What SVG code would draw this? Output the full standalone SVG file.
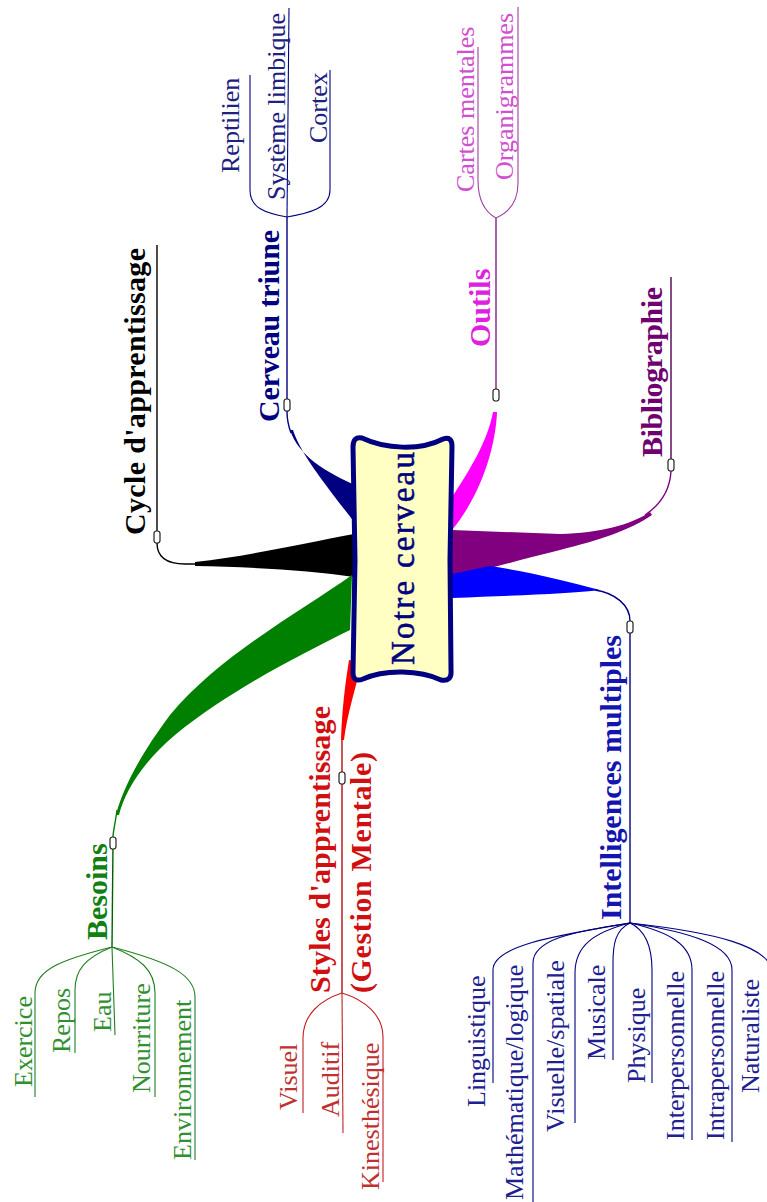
<svg xmlns="http://www.w3.org/2000/svg" xmlns:xlink="http://www.w3.org/1999/xlink" width="767" height="1202" viewBox="0 0 767 1202">
<style>
text{font-family:"Liberation Serif","Times New Roman",serif}
.main{font-size:30px;font-weight:bold}
.sub{font-size:26px}
.ln{fill:none;stroke-width:1.4}
.sl{fill:none;stroke-width:1.1}
.mk{fill:#fff;stroke:#222;stroke-width:1.2}
</style>
<defs>
<rect id="mk" class="mk" x="-3" y="-6" width="6" height="12" rx="2.5"/>
</defs>
<rect width="767" height="1202" fill="#fff"/>
<g id="connectors">
<path d="M354,534 C310,542 250,556 195,562 L195,566 C250,567 310,570 354,577 Z" fill="#000"/>
<path d="M205,564 L185,564 C165,564 157,556 157,543" class="ln" stroke="#000" stroke-width="2.2"/>
<path d="M357,486 C325,472 298,455 290,430 L293,430 C300,452 320,478 355,523 Z" fill="#000080"/>
<path d="M291,433 C288,425 287,418 287,411" class="ln" stroke="#000080" stroke-width="2"/>
<path d="M452,497 C470,470 488,440 493,412 L497,412 C496,440 485,490 452,530 Z" fill="#FF00FF"/>
<path d="M452,530 L560,534 C600,533 630,525 650,512 L652,515 C630,530 600,540 560,550 C520,560 490,568 452,579 Z" fill="#800080"/>
<path d="M645,515 C660,505 670,490 671,471" class="ln" stroke="#800080" stroke-width="2"/>
<path d="M452,574 L490,566 C530,572 570,582 600,590 C570,594 520,595 452,598 Z" fill="#0000FF"/>
<path d="M595,590 C615,593 630,605 630,621" class="ln" stroke="#000080" stroke-width="2"/>
<path d="M349,660 L362,662 C355,690 347,715 344,740 L341,740 C342,710 345,685 349,660 Z" fill="#FF0000"/>
<path d="M352,575 C300,612 220,655 170,715 C140,755 122,790 116,815 L119,815 C125,790 145,760 175,735 C230,690 300,655 350,630 Z" fill="#008000"/>
<path d="M117,810 C115,825 113,832 113,837" class="ln" stroke="#008000" stroke-width="2"/>
<path d="M157,537 L157,245" class="ln" stroke="#000"/>
<path d="M287,405 L287,217" class="ln" stroke="#000080"/>
<path d="M287,217 C265,213 250,208 250,190 L250,75" class="sl" stroke="#000080"/>
<path d="M287,217 L289,8" class="sl" stroke="#000080"/>
<path d="M287,217 C310,213 330,208 330,190 L330,70" class="sl" stroke="#000080"/>
<path d="M496,395 L496,218" class="ln" stroke="#802080"/>
<path d="M496,218 C485,212 478,200 478,180 L478,47" class="sl" stroke="#A040A0"/>
<path d="M496,218 C510,212 518,200 518,183 L518,7" class="sl" stroke="#A040A0"/>
<path d="M671,465 L671,277" class="ln" stroke="#500050"/>
<path d="M630,627 L630,923" class="ln" stroke="#000080"/>
<path d="M630,923 C560,935 493,945 493,970 L493,1083" class="sl" stroke="#000080"/>
<path d="M630,923 C570,932 533,940 533,963 L533,1202" class="sl" stroke="#000080"/>
<path d="M630,923 C595,932 575,945 575,973 L575,1123" class="sl" stroke="#000080"/>
<path d="M630,923 C615,930 613,945 613,963 L613,1060" class="sl" stroke="#000080"/>
<path d="M630,923 C645,930 652,945 652,970 L652,1083" class="sl" stroke="#000080"/>
<path d="M630,923 C670,932 692,945 692,970 L692,1140" class="sl" stroke="#000080"/>
<path d="M630,923 C690,932 732,945 732,970 L732,1142" class="sl" stroke="#000080"/>
<path d="M630,923 C710,932 773,945 773,975 L773,1100" class="sl" stroke="#000080"/>
<path d="M342,740 L342,993" class="ln" stroke="#B01010"/>
<path d="M342,993 C320,1000 303,1015 303,1038 L303,1113" class="sl" stroke="#C02020"/>
<path d="M342,993 L343,1133" class="sl" stroke="#C02020"/>
<path d="M342,993 C365,1000 383,1015 383,1037 L383,1182" class="sl" stroke="#C02020"/>
<path d="M113,843 L112,947" class="ln" stroke="#006000"/>
<path d="M112,947 C60,960 35,970 35,993 L35,1097" class="sl" stroke="#208020"/>
<path d="M112,947 C85,958 75,970 75,990 L75,1053" class="sl" stroke="#208020"/>
<path d="M112,947 L115,1035" class="sl" stroke="#208020"/>
<path d="M112,947 C140,958 155,970 155,993 L155,1097" class="sl" stroke="#208020"/>
<path d="M112,947 C170,962 195,975 195,997 L195,1160" class="sl" stroke="#208020"/>
<use xlink:href="#mk" x="157" y="537"/>
<use xlink:href="#mk" x="287" y="405"/>
<use xlink:href="#mk" x="496" y="395"/>
<use xlink:href="#mk" x="671" y="465"/>
<use xlink:href="#mk" x="630" y="627"/>
<use xlink:href="#mk" x="342" y="778"/>
<use xlink:href="#mk" x="113" y="843"/>
</g>
<g id="center">
<path d="M362,438 C385,449 420,451 443,439 Q452,436 452,446 L450,560 L451,670 Q452,682 441,680 C420,670 385,669 363,679 Q353,683 353,672 L355,560 L353,447 Q353,436 362,438 Z" fill="#FFFFC4" stroke="#000080" stroke-width="5" stroke-linejoin="round"/>
<text transform="translate(414,665) rotate(-90)" font-size="33" fill="#000080" stroke="#000080" stroke-width="0.5" textLength="213" lengthAdjust="spacing">Notre cerveau</text>
</g>
<g id="cycle"><text class="main" fill="#000" transform="translate(145,535) rotate(-90)" textLength="287" lengthAdjust="spacing">Cycle d'apprentissage</text></g>
<g id="cerveau-triune"><text class="main" fill="#000080" transform="translate(279,422) rotate(-90)" textLength="192" lengthAdjust="spacing">Cerveau triune</text></g>
<g id="reptilien"><text class="sub" fill="#202080" transform="translate(239,173) rotate(-90)">Reptilien</text></g>
<g id="systeme-limbique"><text class="sub" fill="#202080" transform="translate(285,200) rotate(-90)">Système limbique</text></g>
<g id="cortex"><text class="sub" fill="#202080" transform="translate(327,143) rotate(-90)">Cortex</text></g>
<g id="outils"><text class="main" fill="#E020E0" transform="translate(490,347) rotate(-90)">Outils</text></g>
<g id="cartes-mentales"><text class="sub" fill="#D050D0" transform="translate(474,192) rotate(-90)">Cartes mentales</text></g>
<g id="organigrammes"><text class="sub" fill="#D050D0" transform="translate(513,180) rotate(-90)">Organigrammes</text></g>
<g id="bibliographie"><text class="main" fill="#700070" transform="translate(662,457) rotate(-90)" textLength="170" lengthAdjust="spacing">Bibliographie</text></g>
<g id="intelligences"><text class="main" fill="#1414B0" transform="translate(621,920) rotate(-90)" textLength="285" lengthAdjust="spacing">Intelligences multiples</text></g>
<g id="linguistique"><text class="sub" fill="#202090" transform="translate(485,1107) rotate(-90)">Linguistique</text></g>
<g id="mathematique"><text class="sub" fill="#202090" transform="translate(523,1200) rotate(-90)">Mathématique/logique</text></g>
<g id="visuelle"><text class="sub" fill="#202090" transform="translate(564,1132) rotate(-90)">Visuelle/spatiale</text></g>
<g id="musicale"><text class="sub" fill="#202090" transform="translate(605,1060) rotate(-90)">Musicale</text></g>
<g id="physique"><text class="sub" fill="#202090" transform="translate(645,1083) rotate(-90)">Physique</text></g>
<g id="interpersonnelle"><text class="sub" fill="#202090" transform="translate(684,1140) rotate(-90)">Interpersonnelle</text></g>
<g id="intrapersonnelle"><text class="sub" fill="#202090" transform="translate(724,1140) rotate(-90)">Intrapersonnelle</text></g>
<g id="naturaliste"><text class="sub" fill="#202090" transform="translate(759,1093) rotate(-90)">Naturaliste</text></g>
<g id="styles"><text class="main" fill="#D01010" transform="translate(330,993) rotate(-90)" textLength="287" lengthAdjust="spacing">Styles d'apprentissage</text>
<text class="main" fill="#D01010" transform="translate(371,993) rotate(-90)" textLength="241" lengthAdjust="spacing">(Gestion Mentale)</text></g>
<g id="visuel"><text class="sub" fill="#C03030" transform="translate(297,1110) rotate(-90)">Visuel</text></g>
<g id="auditif"><text class="sub" fill="#C03030" transform="translate(339,1117) rotate(-90)">Auditif</text></g>
<g id="kinesthesique"><text class="sub" fill="#C03030" transform="translate(379,1190) rotate(-90)">Kinesthésique</text></g>
<g id="besoins"><text class="main" fill="#108010" transform="translate(107,940) rotate(-90)">Besoins</text></g>
<g id="exercice"><text class="sub" fill="#309030" transform="translate(32,1087) rotate(-90)">Exercice</text></g>
<g id="repos"><text class="sub" fill="#309030" transform="translate(70,1053) rotate(-90)">Repos</text></g>
<g id="eau"><text class="sub" fill="#309030" transform="translate(111,1032) rotate(-90)">Eau</text></g>
<g id="nourriture"><text class="sub" fill="#309030" transform="translate(150,1093) rotate(-90)">Nourriture</text></g>
<g id="environnement"><text class="sub" fill="#309030" transform="translate(191,1160) rotate(-90)">Environnement</text></g>
</svg>
